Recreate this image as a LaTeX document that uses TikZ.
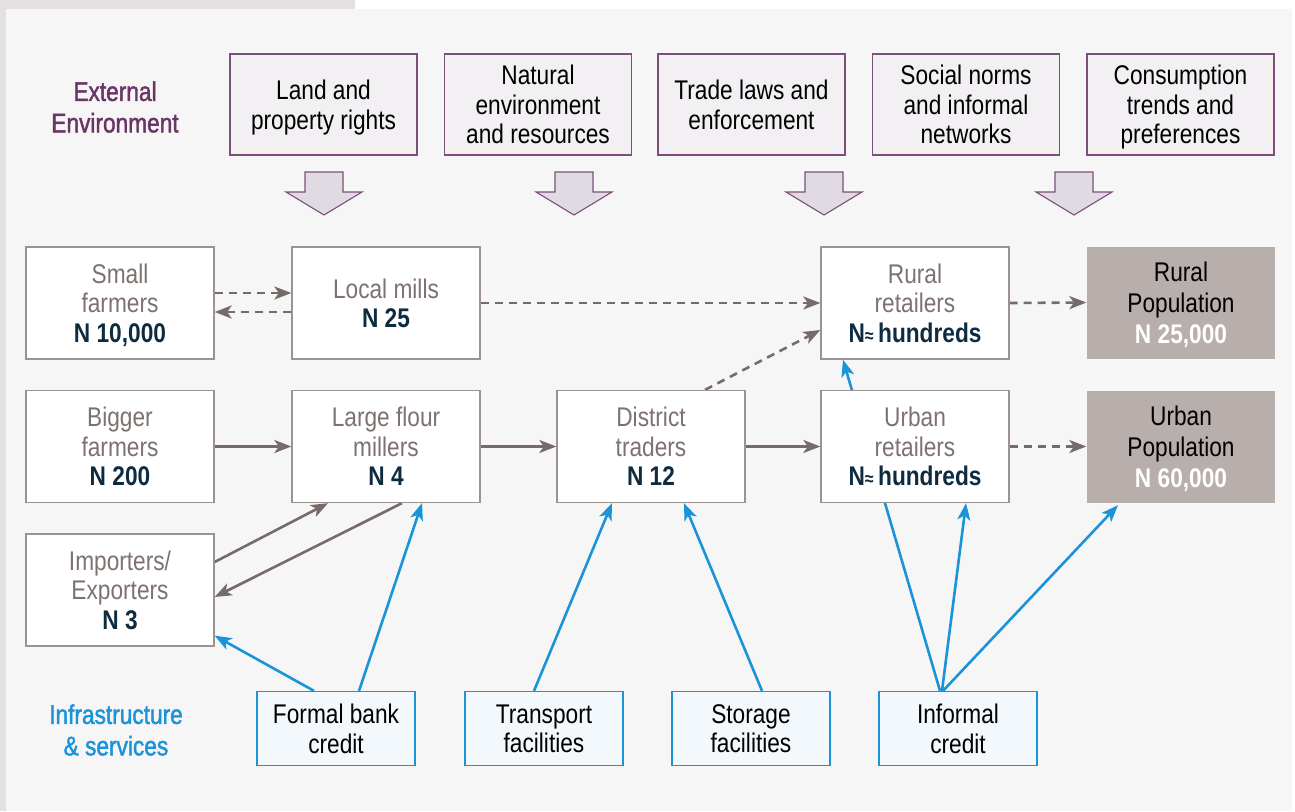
\documentclass[tikz,border=0pt]{standalone}
\usepackage{fontspec}
\setmainfont{Liberation Sans}[FakeStretch=0.84]
\newfontfamily\labelfont{Liberation Sans}[FakeStretch=0.84, FakeBold=1.5]
\usetikzlibrary{arrows.meta}

\definecolor{outergray}{HTML}{E3E0DF}
\definecolor{panel}{HTML}{F6F6F6}
\definecolor{boxline}{HTML}{9C9391}
\definecolor{actortext}{HTML}{7D7270}
\definecolor{ntext}{HTML}{0E2B40}
\definecolor{popfill}{HTML}{B8AEAB}
\definecolor{extline}{HTML}{7B4F7B}
\definecolor{extfill}{HTML}{F3F0F4}
\definecolor{extarrow}{HTML}{E0DAE2}
\definecolor{extlabel}{HTML}{6A3566}
\definecolor{infblue}{HTML}{1B93D9}
\definecolor{inffill}{HTML}{F3F8FD}
\definecolor{flowgray}{HTML}{776B69}

\pgfdeclarelayer{bg}
\pgfdeclarelayer{links}
\pgfsetlayers{bg,links,main}

\newcommand{\nval}[1]{{\bfseries\color{ntext}#1}}
\newcommand{\popn}[1]{{\bfseries\color{white}#1}}
\newcommand{\approxN}{{\fontsize{19}{19}\selectfont\normalfont\bfseries\color{ntext}≈}}

\tikzset{
  base/.style={line width=1.3pt, align=center, inner sep=0pt, text depth=-7pt,
    font=\fontsize{27}{29.5}\selectfont},
  actor/.style={base, draw=boxline, fill=white, text=actortext,
    minimum width=188pt, minimum height=112pt},
  pop/.style={base, fill=popfill, text=black,
    minimum width=188pt, minimum height=112pt,
    font=\fontsize{27}{31}\selectfont},
  ext/.style={base, draw=extline, fill=extfill, text=black,
    minimum width=187pt, minimum height=101pt},
  infra/.style={base, draw=infblue, fill=inffill, text=black,
    minimum width=158pt, minimum height=74pt},
  sidelabel/.style={align=center, inner sep=0pt,
    font=\labelfont\fontsize{27}{31.5}\selectfont},
  tip/.style={-{Stealth[length=17pt,width=13pt,inset=4.5pt]}},
  flow/.style={draw=flowgray, line width=2.6pt, tip},
  dflow/.style={flow, dash pattern=on 8pt off 6pt},
  fund/.style={draw=infblue, line width=2.6pt, tip},
  blockarrow/.style={draw=extline, fill=extarrow, line width=1.1pt, line join=miter},
}

\begin{document}
\begin{tikzpicture}[x=1pt, y=-1pt]
\useasboundingbox (0,0) rectangle (1295,811);

% page background and panel
\begin{pgfonlayer}{bg}
  \fill[white] (0,0) rectangle (1295,811);
  \fill[outergray] (0,0) rectangle (355,9);
  \fill[outergray] (0,0) rectangle (6,811);
  \fill[panel] (6,9) rectangle (1292,811);
\end{pgfonlayer}

% side labels
\node[sidelabel, text=extlabel] (extlab) at (115,107) {External\\Environment};
\node[sidelabel, text=infblue] (inflab) at (116,730) {Infrastructure\\\& services};

% external environment boxes
\node[ext] (land)  at (323.5,104.5) {Land and\\property rights};
\node[ext] (nat)   at (538,104.5)   {Natural\\environment\\and resources};
\node[ext] (trade) at (751.5,104.5) {Trade laws and\\enforcement};
\node[ext] (soc)   at (966,104.5)   {Social norms\\and informal\\networks};
\node[ext] (cons)  at (1180.5,104.5){Consumption\\trends and\\preferences};

% block arrows pointing down into the chain
\foreach \cx in {324,574,824,1074}{
  \draw[blockarrow] (\cx-19,172) -- (\cx+19,172) -- (\cx+19,192) -- (\cx+38,192)
    -- (\cx,215) -- (\cx-38,192) -- (\cx-19,192) -- cycle;
}

% value chain actors
\node[actor] (sf) at (120,303)   {Small\\farmers\\\nval{N 10,000}};
\node[actor] (lm) at (386,303)   {Local mills\\\nval{N 25}};
\node[actor] (rr) at (915,303)   {Rural\\retailers\\\nval{N}\approxN\,\nval{hundreds}};
\node[pop]   (rp) at (1181,302.5){Rural\\Population\\\popn{N 25,000}};

\node[actor] (bf) at (120,446.5) {Bigger\\farmers\\\nval{N 200}};
\node[actor] (lf) at (386,446.5) {Large flour\\millers\\\nval{N 4}};
\node[actor] (dt) at (651,446.5) {District\\traders\\\nval{N 12}};
\node[actor] (ur) at (915,446.5) {Urban\\retailers\\\nval{N}\approxN\,\nval{hundreds}};
\node[pop]   (up) at (1181,446.5){Urban\\Population\\\popn{N 60,000}};

\node[actor] (ie) at (120,590)   {Importers/\\Exporters\\\nval{N 3}};

% infrastructure and services
\node[infra] (fb) at (336,728.5) {Formal bank\\credit};
\node[infra] (tf) at (544,728.5) {Transport\\facilities};
\node[infra] (sg) at (751,728.5) {Storage\\facilities};
\node[infra] (ic) at (958,728.5) {Informal\\credit};

% flows between actors
\begin{pgfonlayer}{links}
  \draw[dflow] ([yshift=10pt]sf.east) -- ([yshift=10pt]lm.west);
  \draw[dflow] ([yshift=-9pt]lm.west) -- ([yshift=-9pt]sf.east);
  \draw[dflow] (lm.east) -- (rr.west);
  \draw[dflow] (rr.east) -- (rp.west);

  \draw[flow] (bf.east) -- (lf.west);
  \draw[flow] (lf.east) -- (dt.west);
  \draw[flow] (dt.east) -- (ur.west);
  \draw[dflow] (ur.east) -- (up.west);

  \draw[dflow] ([xshift=54pt]dt.north) -- ([yshift=-27pt]rr.west);

  \draw[flow] ([yshift=28pt]ie.east) -- ([xshift=-58pt]lf.south);
  \draw[flow] ([xshift=16pt]lf.south) -- ([yshift=-7pt]ie.east);

  % support from infrastructure and services
  \draw[fund] ([xshift=-22pt]fb.north) -- ([yshift=11pt]ie.south east);
  \draw[fund] ([xshift=23pt]fb.north) -- ([xshift=36pt]lf.south);
  \draw[fund] ([xshift=-10pt]tf.north) -- ([xshift=-39pt]dt.south);
  \draw[fund] ([xshift=11pt]sg.north) -- ([xshift=33pt]dt.south);
  \draw[fund] ([xshift=-18pt]ic.north) -- ([xshift=-72pt]rr.south);
  \draw[fund] ([xshift=-16pt]ic.north) -- ([xshift=51pt]ur.south);
  \draw[fund] ([xshift=-15pt]ic.north) -- ([xshift=-63pt,yshift=-2pt]up.south);
\end{pgfonlayer}
\end{tikzpicture}
\end{document}
